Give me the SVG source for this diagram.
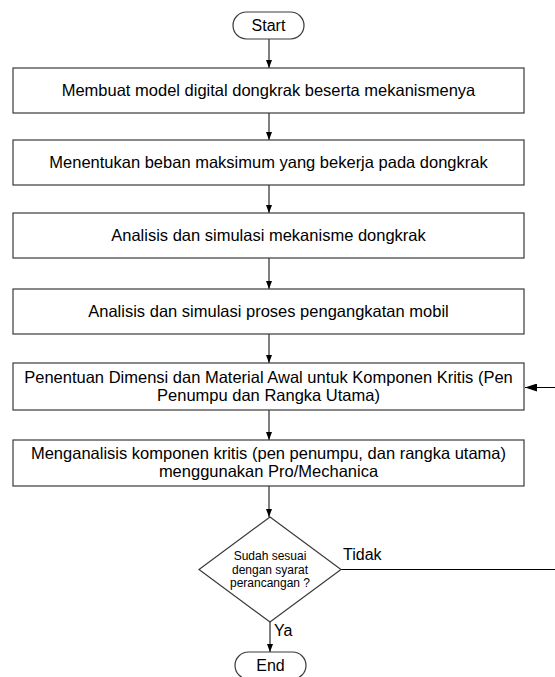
<svg xmlns="http://www.w3.org/2000/svg" width="555" height="677" viewBox="0 0 555 677">
<style>
.box{fill:#fff;stroke:#3a3a3a;stroke-width:1.2}
.t{font-family:"Liberation Sans",Arial,sans-serif;font-size:16.5px;fill:#000;text-anchor:middle}
.s{font-family:"Liberation Sans",Arial,sans-serif;font-size:12px;fill:#000;text-anchor:middle}
.l{font-family:"Liberation Sans",Arial,sans-serif;font-size:16px;fill:#000}
.c{fill:none;stroke:#000;stroke-width:1}
</style>
<defs>
<marker id="ah" viewBox="0 0 8 6" refX="8" refY="3" markerWidth="8" markerHeight="6" markerUnits="userSpaceOnUse" orient="auto">
<path d="M0,0 L8,3 L0,6 Z" fill="#000"/>
</marker>
<marker id="ahb" viewBox="0 0 12 8" refX="12" refY="4" markerWidth="12" markerHeight="8" markerUnits="userSpaceOnUse" orient="auto">
<path d="M0,0 L12,4 L0,8 Z" fill="#000"/>
</marker>
</defs>
<rect width="555" height="677" fill="#fff"/>
<g id="connectors">
<line class="c" x1="269" y1="39" x2="269" y2="68" marker-end="url(#ah)"/>
<line class="c" x1="269" y1="113" x2="269" y2="140" marker-end="url(#ah)"/>
<line class="c" x1="269" y1="185" x2="269" y2="213" marker-end="url(#ah)"/>
<line class="c" x1="269" y1="258" x2="269" y2="289" marker-end="url(#ah)"/>
<line class="c" x1="269" y1="334" x2="269" y2="363" marker-end="url(#ah)"/>
<line class="c" x1="269" y1="410" x2="269" y2="440" marker-end="url(#ah)"/>
<line class="c" x1="269" y1="486" x2="269" y2="517" marker-end="url(#ah)"/>
<line class="c" x1="270" y1="622" x2="270" y2="652" marker-end="url(#ah)"/>
<path class="c" d="M341,569.5 H560 V387.5 H560" />
<line class="c" x1="556" y1="387.5" x2="525" y2="387.5" marker-end="url(#ahb)"/>
<text class="l" x="343" y="560">Tidak</text>
<text class="l" x="274" y="636">Ya</text>
</g>
<g id="start">
<rect x="233" y="12" width="71" height="27" rx="13.5" class="box"/>
<text class="t" x="268.5" y="31" style="font-size:16px">Start</text>
</g>
<g id="step1">
<rect x="13" y="68" width="511" height="45" class="box"/>
<text class="t" x="268.5" y="96">Membuat model digital dongkrak beserta mekanismenya</text>
</g>
<g id="step2">
<rect x="13" y="140" width="511" height="45" class="box"/>
<text class="t" x="268.5" y="168">Menentukan beban maksimum yang bekerja pada dongkrak</text>
</g>
<g id="step3">
<rect x="13" y="213" width="511" height="45" class="box"/>
<text class="t" x="268.5" y="241">Analisis dan simulasi mekanisme dongkrak</text>
</g>
<g id="step4">
<rect x="13" y="289" width="511" height="45" class="box"/>
<text class="t" x="268.5" y="317">Analisis dan simulasi proses pengangkatan mobil</text>
</g>
<g id="step5">
<rect x="13" y="363" width="511" height="47" class="box"/>
<text class="t" x="268.5" y="383">Penentuan Dimensi dan Material Awal untuk Komponen Kritis (Pen</text>
<text class="t" x="268.5" y="401">Penumpu dan Rangka Utama)</text>
</g>
<g id="step6">
<rect x="13" y="440" width="511" height="46" class="box"/>
<text class="t" x="268.5" y="459">Menganalisis komponen kritis (pen penumpu, dan rangka utama)</text>
<text class="t" x="268.5" y="477">menggunakan Pro/Mechanica</text>
</g>
<g id="decision">
<polygon points="270,517 341,569.5 270,622 199,569.5" class="box"/>
<text class="s" x="270" y="560">Sudah sesuai</text>
<text class="s" x="270" y="573.5">dengan syarat</text>
<text class="s" x="270" y="587">perancangan ?</text>
</g>
<g id="end">
<rect x="235" y="652" width="71" height="27" rx="13.5" class="box"/>
<text class="t" x="270.5" y="671" style="font-size:16px">End</text>
</g>
</svg>
